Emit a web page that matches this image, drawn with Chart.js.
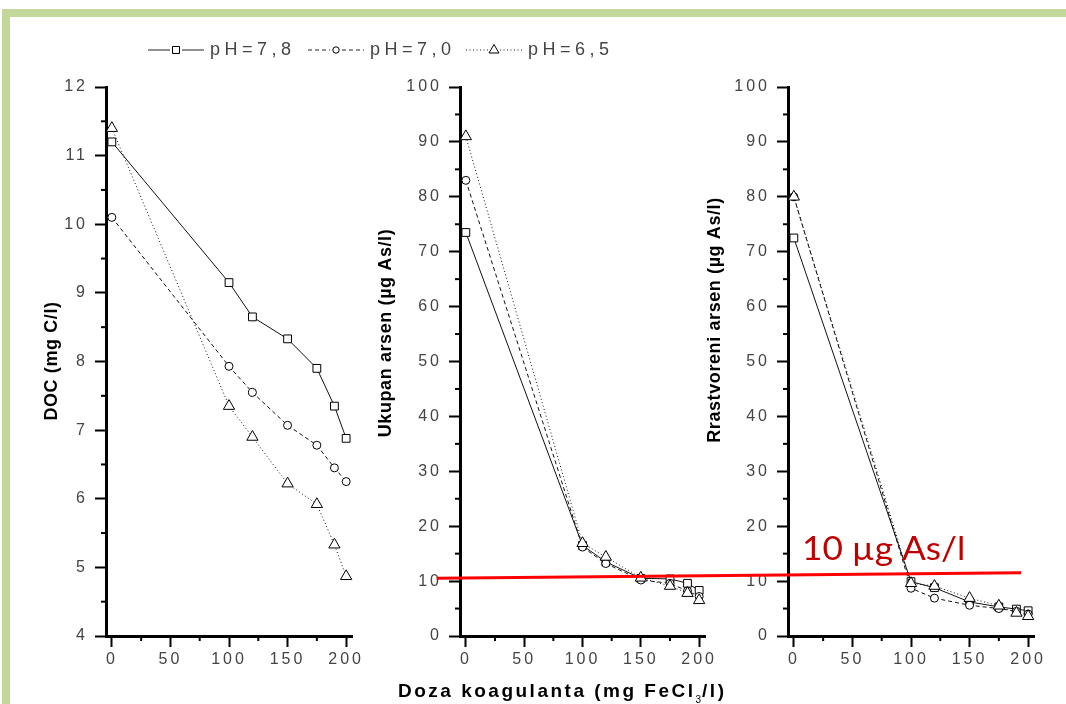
<!DOCTYPE html>
<html><head><meta charset="utf-8">
<script src="https://cdn.jsdelivr.net/npm/chart.js@4.4.0/dist/chart.umd.min.js"></script>
<style>
html,body{margin:0;padding:0;background:#fff;width:1066px;height:704px;overflow:hidden;}
#frame{position:absolute;left:2px;top:9px;width:1120px;height:760px;border-left:8px solid #c4d79b;border-top:8px solid #c4d79b;}
canvas{position:absolute;left:0;top:0;}
</style></head><body>
<div id="frame"></div>
<canvas id="c1" width="1066" height="704"></canvas>
<canvas id="c2" width="1066" height="704"></canvas>
<canvas id="c3" width="1066" height="704"></canvas>
<script>
// ---- data ----
const doses = [0, 100, 120, 150, 175, 190, 200];
const seriesLabels = ['pH=7,8', 'pH=7,0', 'pH=6,5'];
const doc78 = [11.2, 9.15, 8.65, 8.33, 7.9, 7.35, 6.88];
const doc70 = [10.1, 7.93, 7.55, 7.07, 6.78, 6.45, 6.25];
const doc65 = [11.4, 7.35, 6.9, 6.22, 5.92, 5.33, 4.87];
const tot78 = [73.5, 16.5, 13.5, 10.5, 10.4, 9.6, 8.3];
const tot70 = [83, 16.2, 13.2, 10.2, 9.6, 8.2, 7.2];
const tot65 = [91, 16.9, 14.4, 10.6, 9.1, 7.8, 6.5];
const dis78 = [72.5, 9.9, 8.8, 6.2, 5.3, 4.9, 4.6];
const dis70 = [80, 8.7, 6.9, 5.6, 5.0, 4.5, 4.0];
const dis65 = [80, 9.6, 9.1, 6.9, 5.5, 4.2, 3.6];
const yTitles = ['DOC (mg C/l)', 'Ukupan arsen (µg As/l)', 'Rrastvoreni arsen (µg As/l)'];
const xTitleParts = ['Doza koagulanta (mg FeCl', '3', '/l)'];
const limitText = '10 µg As/l';
const limitFrom = [-25, 10.5];   // panel 2 (x, y)
const limitTo = [194, 11.5];     // panel 3 (x, y)

const FONT = '"Liberation Sans", Arial, sans-serif';
const YW = 70;
const styles = [
  {pointStyle: 'rect', pointRadius: 5.5, borderDash: [], order: 2},
  {pointStyle: 'circle', pointRadius: 4, borderDash: [4, 3], order: 1},
  {pointStyle: 'triangle', pointRadius: 6.5, borderDash: [1, 2.5], order: 0}
];

function ds(vals, i) {
  return Object.assign({
    label: seriesLabels[i],
    data: doses.map((d, k) => ({x: d, y: vals[k]})),
    borderColor: '#111', borderWidth: 1,
    pointBackgroundColor: '#fff', pointBorderColor: '#000', pointBorderWidth: 1,
    tension: 0, clip: false
  }, styles[i]);
}
const isMul = (v, m) => Math.abs(v / m - Math.round(v / m)) < 1e-6;

const spacing = {
  id: 'spacing',
  beforeDraw(chart) { chart.ctx.letterSpacing = '3px'; }
};

const deco = {
  id: 'deco',
  afterDraw(chart, args, o) {
    const ctx = chart.ctx, xs = chart.scales.x, ys = chart.scales.y;
    ctx.save();
    ctx.strokeStyle = '#000'; ctx.lineWidth = 2;
    xs.ticks.forEach(t => {
      if (!isMul(t.value, 50)) {
        const px = xs.getPixelForValue(t.value);
        ctx.beginPath(); ctx.moveTo(px, xs.top); ctx.lineTo(px, xs.top + 5); ctx.stroke();
      }
    });
    ys.ticks.forEach(t => {
      if (!isMul(t.value, o.yMajor)) {
        const py = ys.getPixelForValue(t.value);
        ctx.beginPath(); ctx.moveTo(ys.right, py); ctx.lineTo(ys.right - 5, py); ctx.stroke();
      }
    });
    // y title
    ctx.letterSpacing = '0.6px';
    ctx.fillStyle = '#000';
    ctx.font = 'bold 18px ' + FONT;
    ctx.textAlign = 'center'; ctx.textBaseline = 'middle';
    ctx.translate(o.tx, o.ty); ctx.rotate(-Math.PI / 2);
    ctx.fillText(o.title, 0, 0);
    ctx.restore();
  }
};

function marker(ctx, style, x, y) {
  ctx.save();
  ctx.setLineDash([]);
  ctx.fillStyle = '#fff'; ctx.strokeStyle = '#000'; ctx.lineWidth = 1;
  ctx.beginPath();
  if (style === 'rect') ctx.rect(x - 3.5, y - 3.5, 7, 7);
  else if (style === 'circle') ctx.arc(x, y, 3.2, 0, Math.PI * 2);
  else { ctx.moveTo(x, y - 5.5); ctx.lineTo(x + 5, y + 3); ctx.lineTo(x - 5, y + 3); ctx.closePath(); }
  ctx.fill(); ctx.stroke();
  ctx.restore();
}

const legendPlugin = {
  id: 'legendTop',
  afterDraw(chart) {
    const ctx = chart.ctx;
    const starts = [148, 308, 466];
    const y = 50;
    ctx.save();
    chart.data.datasets.forEach((d, i) => {
      const x0 = starts[i];
      ctx.strokeStyle = '#222'; ctx.lineWidth = 1;
      ctx.setLineDash(d.borderDash);
      ctx.beginPath(); ctx.moveTo(x0, y); ctx.lineTo(x0 + 22, y); ctx.moveTo(x0 + 34, y); ctx.lineTo(x0 + 56, y); ctx.stroke();
      marker(ctx, d.pointStyle, x0 + 28, y);
      ctx.setLineDash([]);
      ctx.letterSpacing = '4.5px';
      ctx.font = '18px ' + FONT;
      ctx.fillStyle = '#444';
      ctx.textAlign = 'left'; ctx.textBaseline = 'middle';
      ctx.fillText(d.label, x0 + 62, y);
    });
    ctx.restore();
  }
};

let chart2 = null;
const xTitlePlugin = {
  id: 'xTitle',
  afterDraw(chart) {
    const ctx = chart.ctx;
    ctx.save();
    ctx.fillStyle = '#000';
    ctx.textAlign = 'left'; ctx.textBaseline = 'alphabetic';
    let x = 398; const y = 697;
    ctx.letterSpacing = '2.5px';
    ctx.font = 'bold 19px ' + FONT;
    ctx.fillText(xTitleParts[0], x, y);
    x += ctx.measureText(xTitleParts[0]).width;
    ctx.font = '10px ' + FONT;
    ctx.letterSpacing = '0px';
    ctx.fillText(xTitleParts[1], x, y + 6);
    x += ctx.measureText(xTitleParts[1]).width + 1;
    ctx.font = 'bold 19px ' + FONT;
    ctx.letterSpacing = '2.5px';
    ctx.fillText(xTitleParts[2], x, y);
    ctx.restore();
  }
};

const limitPlugin = {
  id: 'limit',
  afterDraw(chart) {
    if (!chart2) return;
    const ctx = chart.ctx;
    const x1 = chart2.scales.x.getPixelForValue(limitFrom[0]);
    const y1 = chart2.scales.y.getPixelForValue(limitFrom[1]);
    const x2 = chart.scales.x.getPixelForValue(limitTo[0]);
    const y2 = chart.scales.y.getPixelForValue(limitTo[1]);
    ctx.save();
    ctx.strokeStyle = '#ff0000'; ctx.lineWidth = 3; ctx.setLineDash([]);
    ctx.beginPath(); ctx.moveTo(x1, y1); ctx.lineTo(x2, y2); ctx.stroke();
    ctx.letterSpacing = '0px';
    ctx.fillStyle = '#c00000';
    ctx.font = '32px Lato, "Open Sans", sans-serif';
    ctx.textAlign = 'left'; ctx.textBaseline = 'alphabetic';
    ctx.translate(802, 560); ctx.scale(1.1, 1);
    ctx.fillText(limitText, 0, 0);
    ctx.restore();
  }
};

function makeChart(id, sets, yMin, yMax, yStep, yMajor, left, right, titleOpts, extra) {
  return new Chart(document.getElementById(id), {
    type: 'line',
    data: {datasets: sets.map((v, i) => ds(v, i))},
    options: {
      responsive: false, animation: false, events: [],
      layout: {padding: {left: left - YW, right: 1066 - right, top: 87, bottom: 704 - 636 - 50}},
      plugins: {legend: {display: false}, tooltip: {enabled: false}, deco: Object.assign({yMajor}, titleOpts)},
      scales: {
        x: {
          type: 'linear', min: -5, max: 205,
          afterFit: s => { s.height = 50; },
          border: {color: '#000', width: 3},
          grid: {drawOnChartArea: false, tickLength: 11, tickWidth: 2,
                 tickColor: c => (c.tick && isMul(c.tick.value, 50)) ? '#000' : 'rgba(0,0,0,0)'},
          ticks: {stepSize: 25, includeBounds: false, autoSkip: false, maxRotation: 0, padding: 3,
                  color: '#444', font: {size: 16, family: FONT},
                  callback: v => isMul(v, 50) ? String(v) : ''}
        },
        y: {
          type: 'linear', min: yMin, max: yMax,
          afterFit: s => { s.width = YW; },
          border: {color: '#000', width: 3},
          grid: {drawOnChartArea: false, tickLength: 11, tickWidth: 2,
                 tickColor: c => (c.tick && isMul(c.tick.value, yMajor)) ? '#000' : 'rgba(0,0,0,0)'},
          ticks: {stepSize: yStep, autoSkip: false, padding: 7,
                  color: '#444', font: {size: 16, family: FONT},
                  callback: v => isMul(v, yMajor) ? String(v) : ''}
        }
      }
    },
    plugins: [spacing, deco].concat(extra)
  });
}

makeChart('c1', [doc78, doc70, doc65], 4, 12, 0.5, 1, 106, 352,
  {title: yTitles[0], tx: 52, ty: 361}, [legendPlugin]);
chart2 = makeChart('c2', [tot78, tot70, tot65], 0, 100, 5, 10, 460, 705,
  {title: yTitles[1], tx: 386, ty: 333}, [xTitlePlugin]);
makeChart('c3', [dis78, dis70, dis65], 0, 100, 5, 10, 788, 1034,
  {title: yTitles[2], tx: 715, ty: 320}, [limitPlugin]);
</script>
</body></html>
